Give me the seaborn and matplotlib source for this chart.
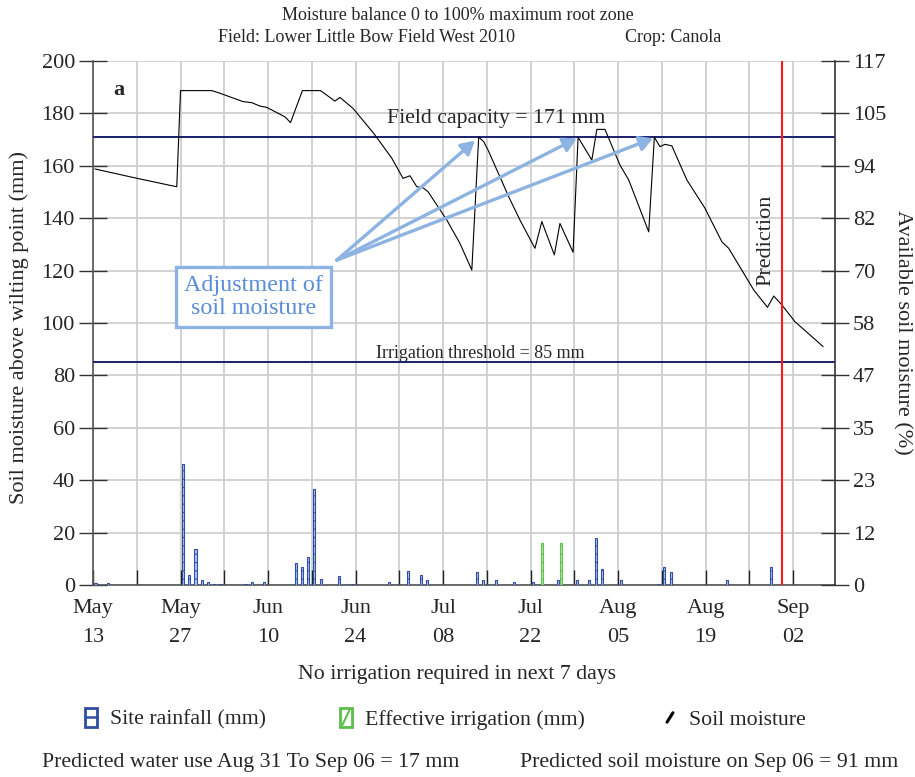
import matplotlib
matplotlib.use("Agg")
import matplotlib.pyplot as plt
import seaborn as sns
import pandas as pd
from matplotlib.patches import FancyArrowPatch, Rectangle
from matplotlib.lines import Line2D

sns.set_theme(style="white")
plt.rcParams['font.family'] = ['Liberation Serif', 'DejaVu Serif']
plt.rcParams['hatch.linewidth'] = 0.8

# ---------------- data ----------------
# days counted from May 13, 2010
moist_day = [0.3, 6.5, 13.4, 14.0, 19.0, 20.3, 24.0, 25.4, 26.7, 27.8, 30.7, 31.6, 33.5, 36.4,
             38.7, 39.5, 41.6, 44.9, 47.8, 49.6, 50.7, 51.8, 52.8, 53.6, 56.6, 58.7, 60.6, 61.7,
             62.5, 63.2, 66.5, 68.3, 70.7, 71.8, 73.8, 74.7, 76.8, 77.6, 79.8, 80.6, 81.9, 84.3,
             85.7, 88.9, 89.8, 90.7, 91.5, 92.6, 95.0, 97.9, 100.6, 101.7, 105.7, 107.9, 108.9,
             110.2, 112.3, 116.8]
moist_mm = [158.8, 155.5, 152.0, 188.7, 188.7, 187.7, 184.5, 184.1, 182.8, 182.3, 178.7, 176.5,
            188.7, 188.7, 184.7, 186.1, 181.9, 172.4, 162.9, 155.2, 156.2, 152.0, 151.6, 150.1,
            139.3, 130.4, 120.2, 171.0, 169.2, 166.0, 148.2, 139.3, 128.5, 138.7, 126.0, 138.0,
            127.0, 170.9, 162.2, 173.9, 173.9, 160.3, 154.6, 134.8, 170.9, 167.3, 168.2, 167.6,
            154.6, 143.8, 131.0, 128.5, 112.6, 106.0, 110.3, 106.9, 100.5, 91.0]

rain_day = [0, 2, 14, 15, 16, 17, 18, 19, 20, 24, 25, 27, 32, 33, 34, 35, 36, 39, 41, 47,
            50, 52, 53, 61, 62, 64, 67, 70, 74, 77, 79, 80, 81, 84, 90, 91, 92, 101, 108]
rain_mm = [0.7, 0.7, 46, 3.7, 13.6, 2, 1, 0.5, 0.5, 0.5, 1, 1, 8.5, 7, 10.5, 36.8, 2.4, 3.4,
           0.5, 1, 5.3, 3.7, 2, 5.1, 2, 2, 1, 1, 2, 2, 2, 18, 6, 2, 0.5, 7, 5.1, 2, 7]
irr_day = [71, 74]
irr_mm = [16, 16]

field_capacity = 171
irr_threshold = 85
prediction_day = 110  # Aug 31

tick_days = [0, 14, 28, 42, 56, 70, 84, 98, 112]
tick_labels = ["May\n13", "May\n27", "Jun\n10", "Jun\n24", "Jul\n08", "Jul\n22",
               "Aug\n05", "Aug\n19", "Sep\n02"]
yticks = [0, 20, 40, 60, 80, 100, 120, 140, 160, 180, 200]

adjust_targets = [(61.1, 169.6), (77.4, 170.5), (89.6, 170.5)]

RAIN_EDGE = "#2f4ea0"
RAIN_FACE = "#b3c6ef"
IRR_EDGE = "#5cbf4a"
IRR_FACE = "#c8ecc0"


class IconHandler:
    def __init__(self, kind):
        self.kind = kind

    def legend_artist(self, legend, orig_handle, fontsize, handlebox):
        x0, y0 = -handlebox.xdescent, -handlebox.ydescent
        w, h = handlebox.width, handlebox.height
        tr = handlebox.get_transform()
        if self.kind == "rain":
            r = Rectangle((x0, y0), w, h, facecolor="white", edgecolor=RAIN_EDGE, lw=2.0,
                          transform=tr)
            handlebox.add_artist(r)
            handlebox.add_artist(Line2D([x0, x0 + w], [y0 + h / 2, y0 + h / 2],
                                        color=RAIN_EDGE, lw=1.8, transform=tr))
            return r
        if self.kind == "irr":
            r = Rectangle((x0, y0), w, h, facecolor="white", edgecolor=IRR_EDGE, lw=2.0,
                          transform=tr)
            handlebox.add_artist(r)
            handlebox.add_artist(Line2D([x0 + w * 0.2, x0 + w * 0.8], [y0 + h * 0.1, y0 + h * 0.9],
                                        color=IRR_EDGE, lw=1.5, transform=tr))
            return r
        ln = Line2D([x0 + w * 0.25, x0 + w * 0.75], [y0 + h * 0.25, y0 + h * 0.75],
                    color="black", lw=2.2, transform=tr)
        handlebox.add_artist(ln)
        return ln


# ---------------- figure ----------------
fig = plt.figure(figsize=(9.15, 7.77), dpi=100)
ax = fig.add_axes([93/915, 1-585/777, (835-93)/915, (585-61)/777])

ax.set_xlim(0, 118.7)
ax.set_ylim(0, 200)

# grid
for d in range(0, 119, 7):
    ax.axvline(d, color="#cfcfcf", lw=1.3, zorder=0)
for y in yticks:
    ax.axhline(y, color="#cfcfcf", lw=1.3, zorder=0)

# bars
ax.bar([d + 0.4 for d in rain_day], rain_mm, width=0.33, facecolor=RAIN_FACE,
       edgecolor=RAIN_EDGE, linewidth=0.8, hatch="--", zorder=3)
ax.bar([d + 0.9 for d in irr_day], irr_mm, width=0.33, facecolor=IRR_FACE,
       edgecolor=IRR_EDGE, linewidth=0.8, hatch="--", zorder=3)

# thresholds
ax.axhline(field_capacity, color="#1a1f6e", lw=1.4, zorder=4)
ax.axhline(irr_threshold, color="#1a1f6e", lw=1.4, zorder=4)

# soil moisture line
df = pd.DataFrame({"day": moist_day, "mm": moist_mm})
sns.lineplot(data=df, x="day", y="mm", ax=ax, color="black", lw=0.8, sort=False,
             estimator=None, zorder=5)

# prediction line
ax.axvline(prediction_day + 0.2, color="#ff1a1a", lw=1.5, zorder=6)

# ticks
ax.set_xticks(tick_days)
ax.set_xticklabels(tick_labels, fontsize=16, linespacing=1.75)
ax.set_xticks(list(range(7, 119, 14)), minor=True)
ax.tick_params(axis="x", which="both", direction="in", length=11, width=1,
               color="#222222", pad=10, bottom=True)
ax.set_yticks(yticks)
ax.set_yticklabels([str(v) for v in yticks], fontsize=16)
ax.tick_params(axis="y", direction="inout", length=20, width=1, color="#333333",
               pad=3, left=True)
ax.set_xlabel("")
ax.set_ylabel("")

for s in ["left", "bottom"]:
    ax.spines[s].set_color("#555555")
    ax.spines[s].set_linewidth(1.2)
ax.spines["top"].set_visible(False)
ax.spines["right"].set_visible(False)

ax2 = ax.twinx()
ax2.set_ylim(0, 200)
ax2.set_yticks(yticks)
ax2.set_yticklabels([str(round(v * 100 / field_capacity)) for v in yticks], fontsize=16)
ax2.tick_params(axis="y", direction="inout", length=20, width=1, color="#333333",
                pad=3, right=True)
ax2.spines["right"].set_color("#333333")
ax2.spines["right"].set_linewidth(1.2)
for s in ["left", "top", "bottom"]:
    ax2.spines[s].set_visible(False)
ax2.grid(False)

# annotations
ax.text(3.2, 189, "a", fontsize=16, fontweight="bold", ha="left", va="center")
ax.text(64.5, 178, "Field capacity = 171 mm", fontsize=15.7, ha="center", va="center")
ax.text(62, 88.5, "Irrigation threshold = 85 mm", fontsize=13, ha="center", va="center")
ax.text(107.7, 131.5, "Prediction", fontsize=16, rotation=90, ha="center", va="center")

ax.text(25.65, 110, "Adjustment of\nsoil moisture", fontsize=17.4, color="#5a8ed6",
        ha="center", va="center", linespacing=1.15, zorder=8,
        bbox=dict(boxstyle="square,pad=0.32", facecolor="white", edgecolor="#8db3e2",
                  linewidth=2.4))
for tx, ty in adjust_targets:
    arr = FancyArrowPatch((39.0, 124.0), (tx, ty), arrowstyle="-|>,head_length=8,head_width=4.5",
                          color="#8db3e2", lw=2.4, zorder=7, shrinkA=0, shrinkB=0)
    ax.add_patch(arr)

# figure texts
fig.text(0.5, 1 - 15/777, "Moisture balance 0 to 100% maximum root zone", fontsize=13,
         ha="center", va="center")
fig.text(366/915, 1 - 37/777, "Field: Lower Little Bow Field West 2010", fontsize=13,
         ha="center", va="center")
fig.text(673/915, 1 - 37/777, "Crop: Canola", fontsize=13, ha="center", va="center")
fig.text(19/915, 1 - 328/777, "Soil moisture above wilting point (mm)", fontsize=16,
         rotation=90, ha="center", va="center")
fig.text(902/915, 1 - 332/777, "Available soil moisture (%)", fontsize=16,
         rotation=270, ha="center", va="center")
fig.text(457/915, 1 - 675/777, "No irrigation required in next 7 days", fontsize=15.7,
         ha="center", va="center")
fig.text(42/915, 1 - 762/777, "Predicted water use Aug 31 To Sep 06 = 17 mm", fontsize=15.7,
         ha="left", va="center")
fig.text(898/915, 1 - 762/777, "Predicted soil moisture on Sep 06 = 91 mm", fontsize=15.7,
         ha="right", va="center")

legend_items = [("rain", "Site rainfall (mm)", 85), ("irr", "Effective irrigation (mm)", 340),
                ("soil", "Soil moisture", 664)]
for kind, label, xpix in legend_items:
    h = Line2D([], [])
    fig.legend([h], [label], loc="center left", bbox_to_anchor=(xpix/915, 1 - 719/777),
               frameon=False, fontsize=15.7, handlelength=0.55, handleheight=0.95,
               handletextpad=0.6, borderpad=0, borderaxespad=0,
               handler_map={h: IconHandler(kind)})

fig.savefig("out.png", dpi=100)
